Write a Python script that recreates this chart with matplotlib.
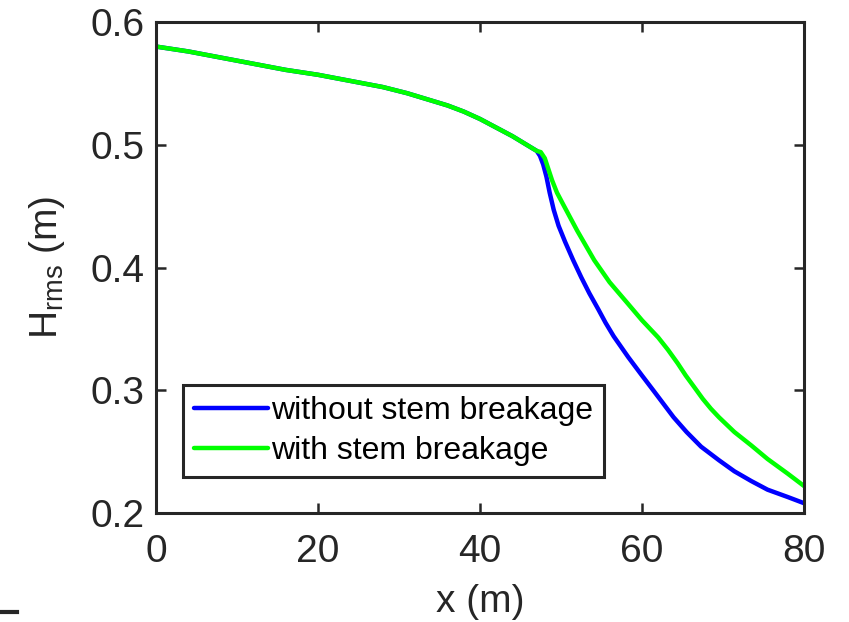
import numpy as np
import matplotlib.pyplot as plt
from matplotlib.lines import Line2D

plt.rcParams['font.family'] = ['Liberation Sans', 'DejaVu Sans']

# shared part (both curves coincide up to x ~ 47 m)
x_common = [0, 4, 8, 12, 16, 20, 24, 28, 31, 34, 36, 38, 40, 42, 44, 45.5, 46.5, 47.0]
h_common = [0.580, 0.576, 0.571, 0.566, 0.561, 0.557, 0.552, 0.547, 0.542, 0.536, 0.532, 0.527, 0.521, 0.514, 0.507, 0.501, 0.497, 0.495]

# without stem breakage
x_without = [47.4, 47.8, 48.2, 48.6, 49.1, 49.7, 50.5, 51.5, 52.5, 53.5, 54.6, 55.5, 56.5, 58.3, 60.0, 61.5, 63.9, 65.5, 67.3, 69.5, 71.4, 73.5, 75.5, 78.0, 80.0]
h_without = [0.491, 0.484, 0.474, 0.461, 0.447, 0.434, 0.421, 0.406, 0.392, 0.379, 0.366, 0.355, 0.344, 0.327, 0.312, 0.299, 0.278, 0.266, 0.254, 0.243, 0.234, 0.226, 0.219, 0.213, 0.208]

# with stem breakage
x_with = [47.5, 48.0, 48.4, 48.9, 49.5, 50.3, 52.0, 54.1, 56.0, 58.2, 60.0, 62.0, 63.2, 64.4, 65.4, 66.4, 67.5, 68.5, 69.5, 71.4, 73.5, 75.5, 78.0, 80.0]
h_with = [0.494, 0.489, 0.481, 0.471, 0.461, 0.451, 0.430, 0.406, 0.388, 0.371, 0.357, 0.343, 0.333, 0.322, 0.312, 0.303, 0.293, 0.285, 0.278, 0.266, 0.255, 0.244, 0.232, 0.222]

fig = plt.figure(figsize=(8.49, 6.22), dpi=100)
ax = fig.add_axes([156 / 849, 1 - 513 / 622, 648 / 849, 491 / 622])

ax.plot(x_common + x_without, h_common + h_without, color='#0000ff', lw=3.2,
        label='without stem breakage', solid_capstyle='round', solid_joinstyle='round')
ax.plot(x_common + x_with, h_common + h_with, color='#00ff00', lw=3.2,
        label='with stem breakage', solid_capstyle='round', solid_joinstyle='round')

ax.set_xlim(0, 80)
ax.set_ylim(0.2, 0.6)
ax.set_xticks([0, 20, 40, 60, 80])
ax.set_yticks([0.2, 0.3, 0.4, 0.5, 0.6])
ax.set_yticklabels(['0.2', '0.3', '0.4', '0.5', '0.6'])
ax.tick_params(direction='in', length=7, width=1.8, labelsize=28, colors='#262626',
               top=True, right=True, pad=8)
ax.tick_params(axis='x', pad=15)
for s in ax.spines.values():
    s.set_linewidth(2.2)
    s.set_color('#262626')

ax.set_xlabel('x (m)', fontsize=28, color='#262626', labelpad=10)
ax.set_ylabel(r'H$_{\mathregular{rms}}$ (m)', fontsize=28, color='#262626', labelpad=17)

leg = ax.legend(loc='lower left', bbox_to_anchor=(27 / 648, 36 / 491), fontsize=23,
                handlelength=2.3, handletextpad=0.1, borderpad=0.35, labelspacing=0.3,
                borderaxespad=0, fancybox=False, framealpha=1)
leg.get_frame().set_edgecolor('#262626')
leg.get_frame().set_linewidth(2.2)

# small stray mark at bottom-left of the original figure
fig.add_artist(Line2D([0, 17 / 849], [1 - 612 / 622, 1 - 612 / 622],
                      color='#262626', lw=3, transform=fig.transFigure))

fig.savefig('out.png', dpi=100)
